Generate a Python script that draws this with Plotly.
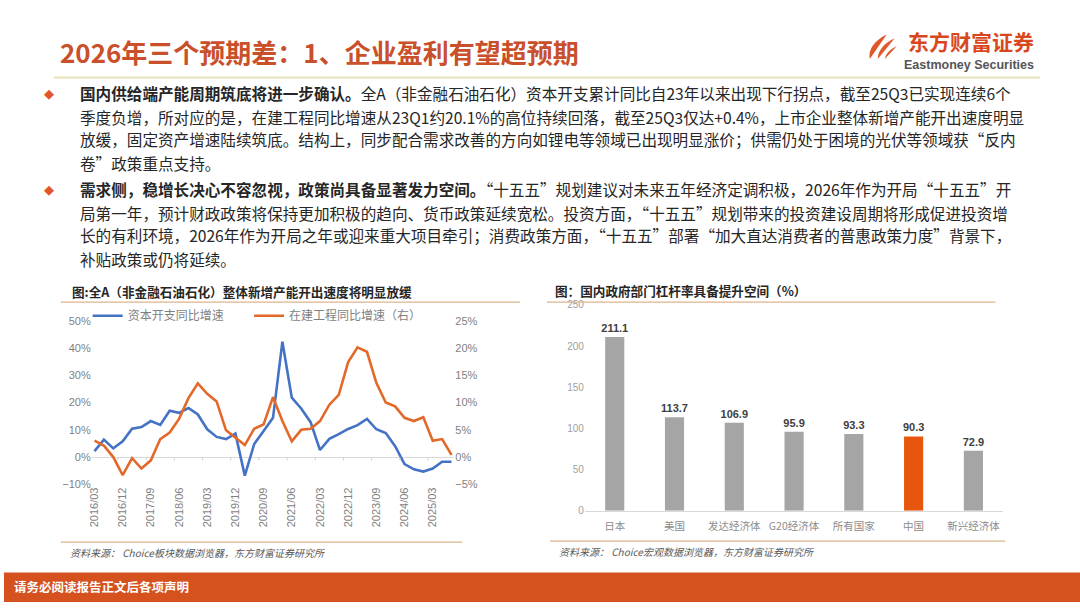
import plotly.graph_objects as go

W, H = 1080, 608

def px(x):
    return x / W

def py(y):
    return 1 - y / H

# ---------------- data ----------------
quarters = [f"{y}/{m:02d}" for y in range(2016, 2026) for m in (3, 6, 9, 12)][:39]
tick_labels = ["2016/03", "2016/12", "2017/09", "2018/06", "2019/03", "2019/12", "2020/09",
               "2021/06", "2022/03", "2022/12", "2023/09", "2024/06", "2025/03"]
capex_yoy = [2.2, 6.4, 3.2, 5.8, 10.4, 11.0, 13.2, 11.8, 17.0, 16.2, 18.0, 15.6, 10.2, 7.4,
             6.6, 8.6, -6.8, 4.8, 9.6, 14.4, 42.3, 21.8, 17.8, 12.8, 2.6, 6.7, 8.4, 10.3,
             11.7, 14.0, 10.2, 8.8, 4.0, -2.6, -4.5, -5.3, -4.2, -1.7, -1.7]
cip_yoy = [3.0, 2.1, 0.0, -3.3, -0.2, -2.1, -0.6, 3.3, 4.5, 7.0, 10.8, 13.5, 11.6, 10.2,
           4.9, 3.5, 2.2, 5.2, 6.0, 11.0, 6.6, 2.9, 5.0, 5.2, 6.6, 9.6, 11.4, 17.4, 20.1,
           19.3, 13.6, 10.0, 9.3, 7.2, 6.6, 7.3, 3.0, 3.3, 0.4]
series_names = ["资本开支同比增速", "在建工程同比增速（右）"]

gov_cats = ["日本", "美国", "发达经济体", "G20经济体", "所有国家", "中国", "新兴经济体"]
gov_lev = [211.1, 113.7, 106.9, 95.9, 93.3, 90.3, 72.9]
highlight = "中国"

BLUE = "#4472c4"
ORANGE = "#e2692a"
GRAY_TXT = "#7f7f7f"
BAR_GRAY = "#a5a5a5"
BAR_HI = "#e8560e"
HEAD = "#c9502a"
FONT = "Liberation Sans, Noto Sans CJK SC"
CJK = "Noto Sans CJK SC"

fig = go.Figure()

# ---------------- left chart ----------------
fig.add_trace(go.Scatter(x=quarters, y=capex_yoy, name=series_names[0], mode="lines",
                         line=dict(color=BLUE, width=2.6), xaxis="x", yaxis="y",
                         legend="legend", hoverinfo="skip"))
fig.add_trace(go.Scatter(x=quarters, y=cip_yoy, name=series_names[1], mode="lines",
                         line=dict(color=ORANGE, width=2.6), xaxis="x", yaxis="y2",
                         legend="legend2", hoverinfo="skip"))

# ---------------- right chart ----------------
bar_colors = [BAR_HI if c == highlight else BAR_GRAY for c in gov_cats]
fig.add_trace(go.Bar(x=gov_cats, y=gov_lev, marker=dict(color=bar_colors, line=dict(width=0)),
                     texttemplate="%{y:.1f}", textposition="outside", cliponaxis=False,
                     constraintext="none",
                     textfont=dict(size=11, color="#404040", family=FONT, weight="bold"),
                     xaxis="x3", yaxis="y3", showlegend=False, hoverinfo="skip"))

shapes = []
# header line
shapes.append(dict(type="line", xref="paper", yref="paper", x0=px(50), x1=px(1040),
                   y0=py(73), y1=py(73), line=dict(color="#e9e2b8", width=2)))
# chart frame lines
for x0, x1, yy in [(57, 518, 302), (545, 995, 302), (57, 460, 547), (548, 1005, 546)]:
    shapes.append(dict(type="line", xref="paper", yref="paper", x0=px(x0), x1=px(x1),
                       y0=py(yy), y1=py(yy), line=dict(color="#dcb48e", width=1.2)))
# small tick marks on zero line of left chart
for k in range(0, 13):
    xt = 2.5 + 3 * k
    if xt < len(quarters):
        shapes.append(dict(type="line", xref="x", yref="y", x0=xt, x1=xt, y0=0, y1=-1.2,
                           line=dict(color="#d0d0d0", width=1)))
# footer band
shapes.append(dict(type="rect", xref="paper", yref="paper", x0=0, x1=1, y0=0, y1=py(578),
                   fillcolor="#d5521f", line=dict(width=0), layer="below"))

# logo flame
def path(pts):
    s = ""
    for p in pts:
        if isinstance(p, str):
            s += p + " "
        else:
            s += f"{px(p[0]):.5f},{py(p[1]):.5f} "
    return s + "Z"

flames = [
    ["M", (869, 54), "C", (867, 44), (874, 35), (886, 29), (879, 37), (876, 45), (875, 54)],
    ["M", (877, 54), "C", (877, 46), (883, 38), (894, 33), (887, 40), (883, 47), (882, 54)],
    ["M", (884, 54), "C", (885, 49), (889, 44), (896, 41), (891, 46), (889, 50), (888, 54)],
]
for f in flames:
    shapes.append(dict(type="path", xref="paper", yref="paper", path=path(f),
                       fillcolor="#e0582a", line=dict(width=0)))

ann = []
# header title
ann.append(dict(text="<b>2026年三个预期差：1、企业盈利有望超预期</b>", x=px(54), y=py(46),
                xref="paper", yref="paper", xanchor="left", yanchor="middle", showarrow=False,
                font=dict(family=CJK, size=26, color=HEAD)))
ann.append(dict(text="<b>东方财富证券</b>", x=px(1036), y=py(36), xref="paper", yref="paper",
                xanchor="right", yanchor="middle", showarrow=False,
                font=dict(family=CJK, size=21, color="#d9481c")))
ann.append(dict(text="<b>Eastmoney Securities</b>", x=px(1036), y=py(60), xref="paper", yref="paper",
                xanchor="right", yanchor="middle", showarrow=False,
                font=dict(family="Liberation Sans", size=12.5, color="#555555")))

# body text
lines = [
    (89, True, "<b>国内供给端产能周期筑底将进一步确认。</b>全A（非金融石油石化）资本开支累计同比自23年以来出现下行拐点，截至25Q3已实现连续6个"),
    (113, False, "季度负增，所对应的是，在建工程同比增速从23Q1约20.1%的高位持续回落，截至25Q3仅达+0.4%，上市企业整体新增产能开出速度明显"),
    (136, False, "放缓，固定资产增速陆续筑底。结构上，同步配合需求改善的方向如锂电等领域已出现明显涨价；供需仍处于困境的光伏等领域获“反内"),
    (160, False, "卷”政策重点支持。"),
    (187, True, "<b>需求侧，稳增长决心不容忽视，政策尚具备显著发力空间。</b>“十五五”规划建议对未来五年经济定调积极，2026年作为开局“十五五”开"),
    (211, False, "局第一年，预计财政政策将保持更加积极的趋向、货币政策延续宽松。投资方面，“十五五”规划带来的投资建设周期将形成促进投资增"),
    (234, False, "长的有利环境，2026年作为开局之年或迎来重大项目牵引；消费政策方面，“十五五”部署“加大直达消费者的普惠政策力度”背景下，"),
    (258, False, "补贴政策或仍将延续。"),
]
for yy, bullet, txt in lines:
    if bullet:
        ann.append(dict(text="◆", x=px(45), y=py(yy), xref="paper", yref="paper",
                        xanchor="center", yanchor="middle", showarrow=False,
                        font=dict(family="DejaVu Sans", size=13, color="#e0582a")))
    ann.append(dict(text=txt, x=px(74), y=py(yy), xref="paper", yref="paper",
                    xanchor="left", yanchor="middle", showarrow=False,
                    font=dict(family=CJK, size=15.6, color="#262626")))

# chart titles
ann.append(dict(text="<b>图:全A（非金融石油石化）整体新增产能开出速度将明显放缓</b>", x=px(66), y=py(291),
                xref="paper", yref="paper", xanchor="left", yanchor="middle", showarrow=False,
                font=dict(family=CJK, size=12.6, color="#262626")))
ann.append(dict(text="<b>图：国内政府部门杠杆率具备提升空间（%）</b>", x=px(551), y=py(290),
                xref="paper", yref="paper", xanchor="left", yanchor="middle", showarrow=False,
                font=dict(family=CJK, size=12.6, color="#262626")))
# sources
ann.append(dict(text="资料来源： Choice板块数据浏览器，东方财富证券研究所", x=px(64), y=py(557),
                xref="paper", yref="paper", xanchor="left", yanchor="middle", showarrow=False,
                font=dict(family=CJK, size=10, color="#595959", style="italic")))
ann.append(dict(text="资料来源： Choice宏观数据浏览器，东方财富证券研究所", x=px(555), y=py(556),
                xref="paper", yref="paper", xanchor="left", yanchor="middle", showarrow=False,
                font=dict(family=CJK, size=10, color="#595959", style="italic")))
# footer
ann.append(dict(text="<b>请务必阅读报告正文后各项声明</b>", x=px(8), y=py(592), xref="paper", yref="paper",
                xanchor="left", yanchor="middle", showarrow=False,
                font=dict(family=CJK, size=12.5, color="white")))

legend_common = dict(orientation="h", yanchor="middle", xanchor="left",
                     font=dict(family=CJK, size=12, color=GRAY_TXT), bgcolor="rgba(0,0,0,0)",
                     itemwidth=30)

fig.update_layout(
    width=W, height=H, margin=dict(l=0, r=0, t=0, b=0),
    paper_bgcolor="white", plot_bgcolor="rgba(0,0,0,0)",
    font=dict(family=FONT, size=11, color=GRAY_TXT),
    showlegend=True,
    legend=dict(x=px(84), y=py(316), **legend_common),
    legend2=dict(x=px(246), y=py(316), **legend_common),
    xaxis=dict(domain=[px(88), px(452)], type="category", range=[-0.3, 38.3],
               tickmode="array", tickvals=tick_labels, ticktext=tick_labels, tickangle=-90,
               showgrid=False, zeroline=False, showline=False, ticks="",
               tickfont=dict(size=11, color=GRAY_TXT), anchor="y"),
    yaxis=dict(domain=[py(488), py(321)], range=[-10, 50], dtick=10, ticksuffix="%",
               showgrid=False, zeroline=True, zerolinecolor="#d9d9d9", zerolinewidth=1,
               showline=False, ticks="", tickfont=dict(size=11, color=GRAY_TXT), anchor="x"),
    yaxis2=dict(overlaying="y", side="right", range=[-5, 25], dtick=5, ticksuffix="%",
                showgrid=False, zeroline=False, showline=False, ticks="",
                tickfont=dict(size=11, color=GRAY_TXT), anchor="x"),
    xaxis3=dict(domain=[px(583), px(1003)], type="category", showgrid=False, zeroline=False,
                showline=True, linecolor="#d9d9d9", linewidth=1, ticks="",
                ticklabelstandoff=6,
                tickfont=dict(family=CJK, size=10.5, color="#8c8c8c"), anchor="y3"),
    yaxis3=dict(domain=[py(515), py(305)], range=[0, 250], dtick=50, showgrid=False,
                zeroline=False, showline=False, ticks="",
                tickfont=dict(size=10, color="#a0a0a0"), anchor="x3"),
    bargap=0.68,
    shapes=shapes, annotations=ann,
)

fig.write_html(
    "out.html",
    config={"displayModeBar": False},
    post_script=("document.documentElement.style.margin='0';"
                 "document.body.style.margin='0';document.body.style.padding='0';"
                 "document.documentElement.style.overflow='hidden';"
                 "document.body.style.overflow='hidden';"),
)
